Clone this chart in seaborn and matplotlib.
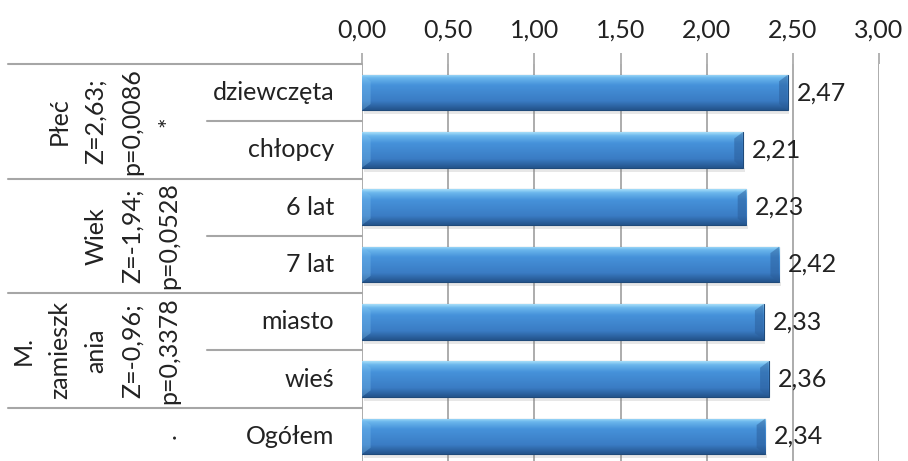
import numpy as np
import pandas as pd
import matplotlib
matplotlib.use('Agg')
import matplotlib.pyplot as plt
import matplotlib.transforms as mtransforms
from matplotlib.lines import Line2D
from matplotlib.colors import LinearSegmentedColormap
import seaborn as sns

# data
categories = ['dziewczęta', 'chłopcy', '6 lat', '7 lat', 'miasto', 'wieś', 'Ogółem']
values = [2.47, 2.21, 2.23, 2.42, 2.33, 2.36, 2.34]
group_labels = ['Płeć\nZ=2,63;\np=0,0086\n*', 'Wiek\nZ=-1,94;\np=0,0528',
                'M.\nzamieszk\nania\nZ=-0,96;\np=0,3378', '.']
group_sizes = [2, 2, 2, 1]
x_ticks = [0, 0.5, 1.0, 1.5, 2.0, 2.5, 3.0]

sns.set_style('white')
plt.rcParams['font.family'] = ['Lato', 'DejaVu Sans']
FS = 18
W, H = 908, 461

df = pd.DataFrame({'kategoria': categories, 'wartosc': values})

fig = plt.figure(figsize=(W / 100, H / 100), dpi=100)
ax = fig.add_axes([362 / W, (H - 465) / H, 517 / W, 401 / H])

sns.barplot(data=df, x='wartosc', y='kategoria', orient='h', color='#3d7cc4',
            width=0.62, edgecolor='#1f4a7a', linewidth=0.8, ax=ax, zorder=3)

# gradient on bars, plus a soft shadow and bevelled ends
cmap = LinearSegmentedColormap.from_list('bar', [
    (0.0, '#a4dcf8'), (0.1, '#6ab6ec'), (0.3, '#4692da'),
    (0.75, '#3a7cc4'), (1.0, '#24548c')])
grad = np.linspace(0, 1, 64).reshape(-1, 1)
for p in ax.patches:
    x0, y0 = p.get_x(), p.get_y()
    w, h = p.get_width(), p.get_height()
    im = ax.imshow(grad, cmap=cmap, aspect='auto', extent=[x0, x0 + w, y0 + h, y0],
                   zorder=3.5, interpolation='bilinear')
    im.set_clip_path(p)
    ax.fill([x0 + 0.01, x0 + w + 0.01, x0 + w + 0.01, x0 + 0.01],
            [y0 + h, y0 + h, y0 + h + 0.07, y0 + h + 0.07],
            color='#7f7f7f', alpha=0.18, zorder=2.5, lw=0)
    ax.fill([x0 + w - 0.05, x0 + w, x0 + w, x0 + w - 0.05],
            [y0 + h * 0.18, y0, y0 + h, y0 + h * 0.82],
            color='#2b5d99', alpha=0.5, zorder=3.6, lw=0)
    ax.fill([x0, x0 + 0.05, x0 + 0.05, x0],
            [y0, y0 + h * 0.18, y0 + h * 0.82, y0 + h],
            color='#7cc0f0', alpha=0.35, zorder=3.6, lw=0)

ax.set_xlim(0, 3)
ax.set_ylim(len(categories) - 0.5, -0.5)
ax.xaxis.tick_top()
ax.set_xticks(x_ticks)
ax.set_xticklabels([f'{t:.2f}'.replace('.', ',') for t in x_ticks], fontsize=FS, color='#222222')
ax.tick_params(axis='x', length=8, width=1.2, color='#a6a6a6', pad=8)
ax.set_yticks([])
ax.set_xlabel('')
ax.set_ylabel('')
ax.grid(axis='x', color='#a6a6a6', linewidth=1.3, zorder=0)
ax.set_axisbelow(True)
for s in ax.spines.values():
    s.set_visible(False)

# value labels
for p, v in zip(ax.patches, values):
    ax.annotate(f'{v:.2f}'.replace('.', ','), (p.get_width(), p.get_y() + p.get_height() / 2),
                xytext=(9, 0), textcoords='offset pixels', ha='left', va='center',
                fontsize=FS, color='#222222', zorder=5)

# left table
trans = mtransforms.blended_transform_factory(fig.transFigure, ax.transData)
for i, cat in enumerate(categories):
    ax.text(334 / W, i, cat, transform=trans, ha='right', va='center', fontsize=FS, color='#222222')

start = 0
for lab, n in zip(group_labels, group_sizes):
    y_top = start - 0.5
    fig.add_artist(Line2D([8 / W, 362 / W], [y_top, y_top], transform=trans,
                          color='#a6a6a6', lw=1.5))
    for k in range(1, n):
        fig.add_artist(Line2D([207 / W, 362 / W], [y_top + k, y_top + k], transform=trans,
                              color='#a6a6a6', lw=1.5))
    ax.text(180 / W, start + (n - 1) / 2, lab, transform=trans, rotation=90,
            ha='right', va='center', multialignment='center', linespacing=1.7,
            fontsize=FS, color='#222222')
    start += n

fig.savefig('out.png', dpi=100)
